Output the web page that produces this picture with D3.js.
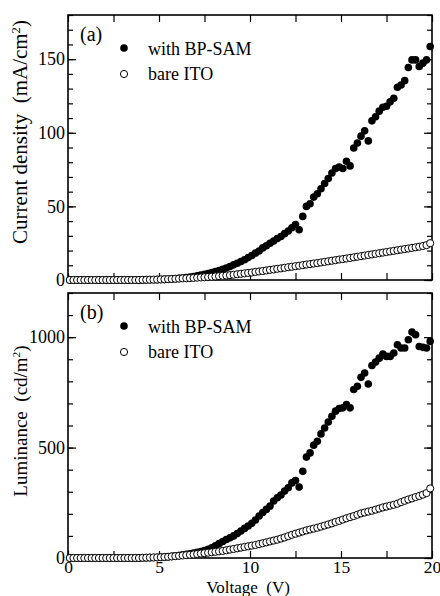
<!DOCTYPE html>
<html><head><meta charset="utf-8">
<script src="https://cdn.jsdelivr.net/npm/d3@7"></script>
<style>
html,body{margin:0;padding:0;background:#fff;}
text{font-family:"Liberation Serif","Times New Roman",serif;fill:#000;}
</style></head>
<body><svg id="chart" width="440" height="596"></svg>
<script>
const voltage = [0.1,0.3,0.5,0.7,0.9,1.1,1.3,1.5,1.7,1.9,2.1,2.3,2.5,2.7,2.9,3.1,3.3,3.5,3.7,3.9,
4.1,4.3,4.5,4.7,4.9,5.1,5.3,5.5,5.7,5.9,6.1,6.3,6.5,6.7,6.9,7.1,7.3,7.5,7.7,7.9,
8.1,8.3,8.5,8.7,8.9,9.1,9.3,9.5,9.7,9.9,10.1,10.3,10.5,10.7,10.9,11.1,11.3,11.5,11.7,11.9,
12.1,12.3,12.5,12.7,12.9,13.1,13.3,13.5,13.7,13.9,14.1,14.3,14.5,14.7,14.9,15.1,15.3,15.5,15.7,15.9,
16.1,16.3,16.5,16.7,16.9,17.1,17.3,17.5,17.7,17.9,18.1,18.3,18.5,18.7,18.9,19.1,19.3,19.5,19.7,19.9];

// (a) current density, mA/cm2
const currentBP = [0,0,0,0,0,0,0,0,0,0,0,0,0,0,0,0,0,0,0,0,
0.05,0.1,0.15,0.2,0.25,0.3,0.4,0.55,0.7,0.9,1.1,1.4,1.7,2.0,2.4,2.8,3.3,3.8,4.4,5.0,
5.7,6.5,7.3,8.2,9.2,10.3,11.4,12.6,13.8,15.2,16.6,18.3,19.7,21.8,23.3,25.0,26.5,28.2,29.5,31.5,
33.3,35.5,37.7,34.1,43.2,50.0,51.8,56.3,58.6,62.0,65.5,68.9,72.7,75.7,76.8,75.7,80.7,77.5,89.7,93.1,
97.7,101.3,94.5,108.1,110.9,114.7,117.3,118.0,121.0,123.4,130.9,132.5,135.4,144.3,149.5,149.5,145.0,147.3,149.5,158.6];
const currentITO = [0,0,0,0,0,0,0,0,0,0,0,0,0,0,0,0,0,0,0,0,
0.1,0.15,0.2,0.25,0.3,0.4,0.5,0.6,0.7,0.85,0.95,1.1,1.2,1.3,1.45,1.6,1.75,1.9,2.05,2.2,
2.4,2.6,2.85,3.05,3.3,3.6,3.9,4.2,4.5,4.8,5.1,5.5,5.8,6.1,6.5,6.9,7.2,7.6,7.9,8.3,
8.7,9.0,9.4,9.7,10.1,10.5,10.8,11.2,11.5,11.9,12.3,12.7,13.1,13.5,13.9,14.2,14.6,15.0,15.4,15.8,
16.2,16.6,17.0,17.4,17.8,18.2,18.6,19.0,19.4,19.8,20.2,20.6,21.0,21.4,21.8,22.2,22.6,23.1,23.7,25.0];

// (b) luminance, cd/m2
const luminanceBP = [0,0,0,0,0,0,0,0,0,0,0,0,0,0,0,0,0,0,0,0,
0.5,1,1.5,2,2.5,3.5,4.5,6,7.5,9.5,11.5,14,16.5,19,22,25.5,29.5,34,39,46,
55,65,75,84,92,100,111,122,134,145,157,172,190,206,220,235,258,273,285,303,
318,340,351,321,393,457,476,511,529,562,589,616,642,665,677,680,695,680,763,778,
818,838,788,872,887,905,924,913,913,928,966,951,951,988,1023,1011,958,954,951,981];
const luminanceITO = [0,0,0,0,0,0,0,0,0,0,0,0,0,0,0,0,0,0,0,0,
1,1.5,2,2.5,3,3.5,4.5,5.5,7,8.5,10,11.5,13,14.5,16,18,20,22,24,26,
28,30,32,35,38,41,44,47,50,53,56,59,63,67,71,75,79,83,88,93,
99,105,110,115,120,125,129,133,137,142,147,152,157,163,168,174,180,185,190,196,
202,206,210,214,219,224,229,233,237,241,246,253,259,265,270,276,281,287,294,315];

const xTicks = [0,5,10,15,20];
const xMinorTicks = [0,2.5,5,7.5,10,12.5,15,17.5,20];
const yTopTicks = [0,50,100,150];
const yTopMinor = [0,10,20,30,40,50,60,70,80,90,100,110,120,130,140,150,160,170,180];
const yBotTicks = [0,500,1000];
const yBotMinor = [0,100,200,300,400,500,600,700,800,900,1000,1100,1200];
const seriesNames = ["with BP-SAM","bare ITO"];

const svg = d3.select("#chart");
svg.append("rect").attr("width",440).attr("height",596).attr("fill","#fff");

const L = 68, R = 432;
const x = d3.scaleLinear().domain([0,20]).range([L,R]);

function panel(top, bottom, yDomain, majorY, minorY, s1, s2, tag, titleParts, titleY, titleSize, showXLabels){
  const y = d3.scaleLinear().domain(yDomain).range([bottom, top]);
  const g = svg.append("g");
  const fmt = d3.format("d");
  const addAxis = (axis, tr, fs) => {
    const a = g.append("g").attr("transform", tr).call(axis);
    a.select(".domain").remove();
    a.selectAll("line").attr("stroke","#000").attr("stroke-width",1.2);
    a.selectAll("text").style("font-family",'"Liberation Serif",serif').style("font-size",(fs||18)+"px").attr("fill","#000");
    return a;
  };
  addAxis(d3.axisLeft(y).tickValues(minorY).tickSize(-5).tickSizeOuter(0).tickFormat(""), `translate(${L},0)`);
  addAxis(d3.axisRight(y).tickValues(minorY).tickSize(-5).tickSizeOuter(0).tickFormat(""), `translate(${R},0)`);
  addAxis(d3.axisLeft(y).tickValues(majorY).tickSize(-8).tickSizeOuter(0).tickPadding(3).tickFormat(fmt), `translate(${L},0)`);
  addAxis(d3.axisRight(y).tickValues(majorY).tickSize(-8).tickSizeOuter(0).tickFormat(""), `translate(${R},0)`);
  addAxis(d3.axisTop(x).tickValues(xMinorTicks).tickSize(-7).tickSizeOuter(0).tickFormat(""), `translate(0,${top})`);
  addAxis(d3.axisBottom(x).tickValues(xMinorTicks).tickSize(-7).tickSizeOuter(0).tickPadding(3)
      .tickFormat(d => showXLabels && xTicks.includes(d) ? fmt(d) : ""), `translate(0,${bottom})`, 17.5);
  g.append("rect").attr("x",L).attr("y",top).attr("width",R-L).attr("height",bottom-top)
    .attr("fill","none").attr("stroke","#000").attr("stroke-width",1.6);

  g.append("g").selectAll("circle").data(voltage).join("circle")
    .attr("cx",(d)=>x(d)).attr("cy",(d,i)=>y(s1[i])).attr("r",3.8).attr("fill","#000");
  g.append("g").selectAll("circle").data(voltage).join("circle")
    .attr("cx",(d)=>x(d)).attr("cy",(d,i)=>y(s2[i])).attr("r",3.6).attr("fill","#fff").attr("stroke","#000").attr("stroke-width",1);

  g.append("text").attr("x",80).attr("y",top+26).style("font-size","20px").text(tag);
  g.append("circle").attr("cx",124).attr("cy",top+33).attr("r",3.8).attr("fill","#000");
  g.append("text").attr("x",148).attr("y",top+40).style("font-size","18px").text(seriesNames[0]);
  g.append("circle").attr("cx",124).attr("cy",top+59).attr("r",3.6).attr("fill","#fff").attr("stroke","#000").attr("stroke-width",1);
  g.append("text").attr("x",148).attr("y",top+65).style("font-size","18px").text(seriesNames[1]);

  const t = g.append("text").attr("transform",`translate(27,${titleY}) rotate(-90)`)
    .attr("text-anchor","middle").style("font-size",titleSize+"px").style("white-space","pre");
  t.append("tspan").text(titleParts[0]);
  t.append("tspan").attr("dy",-7).style("font-size",(titleSize*0.6)+"px").text("2");
  t.append("tspan").attr("dy",7).text(")");
}

panel(15, 280, [0,180], yTopTicks, yTopMinor, currentBP, currentITO, "(a)", ["Current density  (mA/cm"], 132, 21, false);
panel(293, 558, [0,1200], yBotTicks, yBotMinor, luminanceBP, luminanceITO, "(b)", ["Luminance  (cd/m"], 421, 19, true);

svg.append("text").attr("x",248).attr("y",592.5).attr("text-anchor","middle")
  .style("font-size","17px").style("white-space","pre").text("Voltage  (V)");
</script></body></html>
